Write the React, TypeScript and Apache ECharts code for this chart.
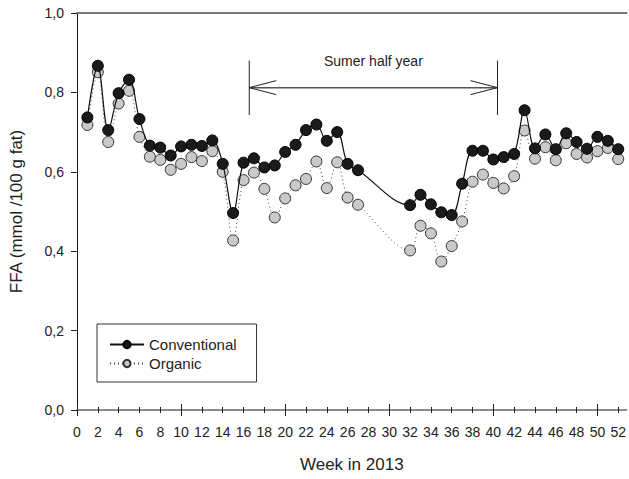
import React, { useEffect, useRef } from "react";
import * as echarts from "echarts";

const weeks = [1, 2, 3, 4, 5, 6, 7, 8, 9, 10, 11, 12, 13, 14, 15, 16, 17, 18, 19, 20, 21, 22, 23, 24, 25, 26, 27, 32, 33, 34, 35, 36, 37, 38, 39, 40, 41, 42, 43, 44, 45, 46, 47, 48, 49, 50, 51, 52];
const conventional = [0.737, 0.867, 0.705, 0.798, 0.832, 0.733, 0.666, 0.661, 0.641, 0.664, 0.668, 0.665, 0.679, 0.620, 0.496, 0.623, 0.634, 0.611, 0.616, 0.650, 0.668, 0.705, 0.719, 0.678, 0.700, 0.620, 0.604, 0.516, 0.542, 0.518, 0.498, 0.491, 0.570, 0.653, 0.653, 0.631, 0.637, 0.645, 0.755, 0.659, 0.694, 0.657, 0.697, 0.675, 0.658, 0.688, 0.678, 0.657];
const organic = [0.718, 0.851, 0.675, 0.772, 0.804, 0.688, 0.638, 0.630, 0.605, 0.620, 0.637, 0.627, 0.652, 0.600, 0.427, 0.579, 0.598, 0.557, 0.485, 0.533, 0.566, 0.582, 0.626, 0.559, 0.624, 0.535, 0.517, 0.402, 0.464, 0.445, 0.374, 0.413, 0.475, 0.575, 0.593, 0.572, 0.558, 0.589, 0.704, 0.633, 0.662, 0.629, 0.672, 0.645, 0.636, 0.652, 0.660, 0.632];
const xLabelValues = [0, 2, 4, 6, 8, 10, 12, 14, 16, 18, 20, 22, 24, 26, 28, 30, 32, 34, 36, 38, 40, 42, 44, 46, 48, 50, 52];
const xMajorTicks = [0, 10, 20, 30, 40, 50];
const xMinorTicks = xLabelValues.filter((v) => v % 10 !== 0);
const summerStart = 16.55;
const summerEnd = 40.4;
const summerLabel = "Sumer half year";

const FONT = "'Liberation Sans', Arial, Helvetica, sans-serif";

export default function App() {
  const ref = useRef<HTMLDivElement>(null);
  useEffect(() => {
    if (!ref.current) return;
    const chart = echarts.init(ref.current, undefined, { renderer: "svg" });
    const xBase = {
      type: "value" as const,
      gridIndex: 0,
      min: 0,
      max: 52.8,
      position: "bottom" as const,
      splitLine: { show: false },
      axisLabel: { show: false },
      axisLine: { show: false },
    };
    const option: any = {
      animation: false,
      textStyle: { fontFamily: FONT },
      grid: { left: 75, top: 13, right: 1, bottom: 69, containLabel: false },
      legend: {
        orient: "vertical",
        left: 97,
        top: 324,
        data: ["Conventional", "Organic"],
        itemWidth: 34,
        itemHeight: 9,
        itemGap: 4,
        padding: [13, 20, 11, 12],
        borderColor: "#333",
        borderWidth: 1,
        textStyle: { fontFamily: FONT, fontSize: 15, color: "#222" },
      },
      xAxis: [
        {
          ...xBase,
          name: "Week in 2013",
          nameLocation: "middle",
          nameGap: 46,
          nameTextStyle: { fontFamily: FONT, fontSize: 17, color: "#222" },
          axisLine: { show: true, lineStyle: { color: "#666", width: 1.5 } },
          axisTick: { show: true, inside: false, length: 3, customValues: xMinorTicks, lineStyle: { color: "#222", width: 1 } },
          axisLabel: { show: true, customValues: xLabelValues, margin: 15, fontSize: 14, color: "#222", fontFamily: FONT },
        },
        { ...xBase, axisTick: { show: true, inside: true, length: 3, customValues: xMinorTicks, lineStyle: { color: "#222", width: 1 } } },
        { ...xBase, axisTick: { show: true, inside: false, length: 6, customValues: xMajorTicks, lineStyle: { color: "#222", width: 1 } } },
        { ...xBase, axisTick: { show: true, inside: true, length: 6, customValues: xMajorTicks, lineStyle: { color: "#222", width: 1 } } },
        {
          ...xBase,
          position: "top",
          axisLine: { show: true, lineStyle: { color: "#777", width: 2 } },
          axisTick: { show: false },
        },
      ],
      yAxis: {
        type: "value",
        min: 0,
        max: 1,
        interval: 0.2,
        name: "FFA (mmol /100 g fat)",
        nameLocation: "middle",
        nameGap: 52,
        nameTextStyle: { fontFamily: FONT, fontSize: 17, color: "#222" },
        splitLine: { show: false },
        axisLine: { show: true, lineStyle: { color: "#111", width: 1 } },
        axisTick: { show: true, inside: false, length: 6, lineStyle: { color: "#222" } },
        axisLabel: {
          margin: 13,
          fontSize: 14,
          color: "#222",
          fontFamily: FONT,
          formatter: (v: number) => v.toFixed(1).replace(".", ","),
        },
      },
      series: [
        {
          name: "Organic",
          type: "line",
          xAxisIndex: 0,
          z: 2,
          smooth: 0.35,
          data: weeks.map((w, i) => [w, organic[i]]),
          symbol: "circle",
          symbolSize: 11,
          lineStyle: { color: "#444", width: 1, type: [1, 3] },
          itemStyle: { color: "#c9c9c9", borderColor: "#333", borderWidth: 1 },
        },
        {
          name: "Conventional",
          type: "line",
          xAxisIndex: 0,
          z: 3,
          smooth: 0.35,
          data: weeks.map((w, i) => [w, conventional[i]]),
          symbol: "circle",
          symbolSize: 11,
          lineStyle: { color: "#111", width: 1.2 },
          itemStyle: { color: "#1a1a1a", borderColor: "#000", borderWidth: 1 },
        },
      ],
    };
    chart.setOption(option);

    const p = (x: number, y: number) => chart.convertToPixel({ gridIndex: 0 }, [x, y]) as number[];
    const a = p(summerStart, 0.812);
    const b = p(summerEnd, 0.812);
    const aTop = p(summerStart, 0.88);
    const aBot = p(summerStart, 0.743);
    const bTop = p(summerEnd, 0.88);
    const bBot = p(summerEnd, 0.743);
    const txt = p((summerStart + summerEnd) / 2, 0.88);
    const stroke = { stroke: "#222", lineWidth: 1 };
    const head = 27;
    const hw = 7;
    chart.setOption({
      graphic: [
        { type: "line", shape: { x1: aTop[0], y1: aTop[1], x2: aBot[0], y2: aBot[1] }, style: stroke },
        { type: "line", shape: { x1: bTop[0], y1: bTop[1], x2: bBot[0], y2: bBot[1] }, style: stroke },
        { type: "line", shape: { x1: a[0], y1: a[1], x2: b[0], y2: b[1] }, style: { stroke: "#555", lineWidth: 1.5 } },
        { type: "polyline", shape: { points: [[a[0] + head, a[1] - hw], [a[0], a[1]], [a[0] + head, a[1] + hw]] }, style: { ...stroke, fill: "none" } },
        { type: "polyline", shape: { points: [[b[0] - head, b[1] - hw], [b[0], b[1]], [b[0] - head, b[1] + hw]] }, style: { ...stroke, fill: "none" } },
        {
          type: "text",
          x: txt[0],
          y: txt[1],
          style: { text: summerLabel, fontSize: 14, fontFamily: FONT, fill: "#222", align: "center", verticalAlign: "middle" },
        },
      ],
    });
    return () => chart.dispose();
  }, []);
  return <div ref={ref} style={{ position: "absolute", left: 0, top: 0, width: 629, height: 479, background: "#fff" }} />;
}
